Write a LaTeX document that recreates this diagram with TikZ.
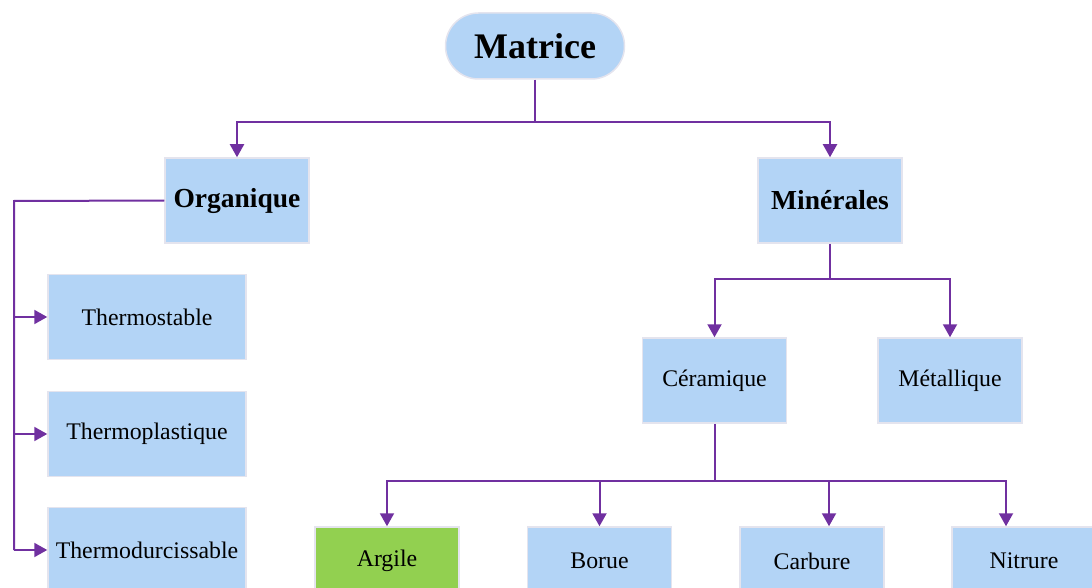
\documentclass[tikz,border=0pt]{standalone}
\usepackage{fontspec}
\setmainfont{Liberation Serif}
\usetikzlibrary{arrows.meta}
\definecolor{boxblue}{RGB}{179,212,246}
\definecolor{boxgreen}{RGB}{146,208,80}
\definecolor{boxedge}{RGB}{228,228,238}
\definecolor{linkpurple}{RGB}{112,48,160}
\tikzset{
  box/.style={draw=boxedge, line width=1.5pt, fill=boxblue, inner sep=0pt,
    minimum width=144pt, minimum height=85pt, font=\fontsize{23.8}{27}\selectfont},
  widebox/.style={box, minimum width=198pt},
  headbox/.style={box, font=\bfseries\fontsize{27.5}{31}\selectfont},
  rootbox/.style={box, rounded corners=33pt, minimum width=179pt, minimum height=66pt,
    font=\bfseries\fontsize{36}{40}\selectfont},
  link/.style={draw=linkpurple, line width=2pt},
  arrow/.style={link, -{Triangle[width=14pt,length=13pt]}},
}
\begin{document}
\begin{tikzpicture}[x=1pt,y=-1pt]
\useasboundingbox (0,0) rectangle (1092,588);
\clip (0,0) rectangle (1092,588);

% nodes
\node[rootbox] (matrice) at (535,46) {Matrice};
\node[headbox] (org) at (237,200.5) {Organique};
\node[headbox] (min) at (830,200.5) {Minérales};
\node[widebox] (tstab) at (147,317) {Thermostable};
\node[widebox] (tplas) at (147,434) {Thermoplastique};
\node[widebox] (tdur) at (147,550) {Thermodurcissable};
\node[box] (cera) at (714.5,380.5) {Céramique};
\node[box] (meta) at (950,380.5) {Métallique};
\node[box, fill=boxgreen, minimum height=68pt] (argile) at (387,561) {Argile};
\node[box, minimum height=68pt] (borue) at (599.5,561) {Borue};
\node[box, minimum height=68pt] (carb) at (812,561) {Carbure};
\node[box, minimum height=68pt] (nitr) at (1024,561) {Nitrure};

% bus lines
\coordinate (bus1) at (0,122);
\coordinate (bus2) at (0,279);
\coordinate (bus3) at (0,481);
\coordinate (rail) at (14,201);

% Matrice -> Organique / Minérales
\draw[link] (matrice.south) -- (matrice.south |- bus1);
\draw[arrow] (matrice.south |- bus1) -| (org.north);
\draw[arrow] (matrice.south |- bus1) -| (min.north);

% Organique -> thermo families
\draw[link] (org.west) -- (rail) -- (rail |- tdur.west);
\draw[arrow] (rail |- tstab.west) -- (tstab.west);
\draw[arrow] (rail |- tplas.west) -- (tplas.west);
\draw[arrow] (rail |- tdur.west) -- (tdur.west);

% Minérales -> Céramique / Métallique
\draw[link] (min.south) -- (min.south |- bus2);
\draw[arrow] (min.south |- bus2) -| (cera.north);
\draw[arrow] (min.south |- bus2) -| (meta.north);

% Céramique -> sub-types
\draw[link] (cera.south) -- (cera.south |- bus3);
\draw[arrow] (cera.south |- bus3) -| (argile.north);
\draw[arrow] (cera.south |- bus3) -| (borue.north);
\draw[arrow] (cera.south |- bus3) -| ([xshift=17pt]carb.north);
\draw[arrow] (cera.south |- bus3) -| ([xshift=-18pt]nitr.north);
\end{tikzpicture}
\end{document}
